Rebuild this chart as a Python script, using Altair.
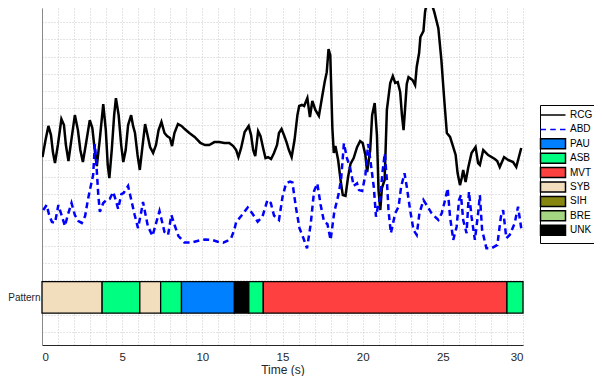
import altair as alt
import pandas as pd

# ---- categories / legend ----
names = ["RCG", "ABD", "PAU", "ASB", "MVT", "SYB", "SIH", "BRE", "UNK"]
colors = ["#000000", "#0000FF", "#0080FF", "#00FF80", "#FF4040",
          "#F2DEBC", "#868610", "#A5D782", "#000000"]
edge_colors = ["#000000", "#0000FF", "#000000", "#000000", "#000000",
               "#000000", "#000000", "#000000", "#000000"]
line_sym = "M-2.5,0L2.5,0"
dash_sym = "M-2.5,0L-1.4,0M-0.55,0L0.55,0M1.4,0L2.5,0"
box_sym = "M-2.5,-1L2.5,-1L2.5,1L-2.5,1Z"
symbols = [line_sym, dash_sym] + [box_sym] * 7

# ---- RCG trace (time s, amplitude a.u.) ----
rcg_t = [0.03, 0.22, 0.40, 0.56, 0.68, 0.81, 0.99, 1.21, 1.37, 1.49, 1.65, 1.83, 2.05, 2.24,
         2.39, 2.55, 2.73, 2.98, 3.14, 3.29, 3.42, 3.60, 3.82, 3.98, 4.10, 4.20, 4.35, 4.50,
         4.61, 4.78, 4.94, 5.07, 5.22, 5.37, 5.56, 5.68, 5.80, 5.96, 6.10, 6.24, 6.43, 6.58,
         6.74, 6.93, 7.11, 7.27, 7.45, 7.64, 7.80, 7.98, 8.11, 8.26, 8.48, 8.70, 8.90, 9.19,
         9.52, 9.88, 10.16, 10.43, 10.75, 11.06, 11.37, 11.68, 11.93, 12.11, 12.25, 12.42,
         12.64, 12.89, 13.04, 13.17, 13.30, 13.48, 13.63, 13.79, 13.94, 14.10, 14.29, 14.47,
         14.66, 14.78, 14.94, 15.09, 15.25, 15.40, 15.57, 15.75, 15.93, 16.04, 16.21, 16.35,
         16.55, 16.71, 16.86, 17.05, 17.27, 17.47, 17.63, 17.76, 17.87, 17.98, 18.11, 18.20,
         18.30, 18.47, 18.62, 18.76, 18.93, 19.09, 19.24, 19.44, 19.65, 19.84, 20.00, 20.17,
         20.28, 20.47, 20.59, 20.75, 20.89, 20.99, 21.10, 21.20, 21.37, 21.51, 21.72, 21.88,
         22.03, 22.19, 22.34, 22.45, 22.55, 22.64, 22.75, 22.86, 23.11, 23.27, 23.37, 23.52,
         23.60, 23.79, 23.89, 24.07, 24.29, 24.47, 24.72, 24.91, 25.09, 25.25, 25.45, 25.65,
         25.80, 25.92, 26.07, 26.18, 26.27, 26.42, 26.58, 26.79, 27.04, 27.20, 27.31, 27.52,
         27.83, 28.24, 28.39, 28.55, 28.82, 29.07, 29.38, 29.58, 29.89]
rcg_v = [8.16, 9.15, 9.97, 9.44, 8.45, 7.81, 8.86, 10.37, 10.02, 8.86, 7.93, 9.15, 10.60, 9.73,
         8.57, 7.87, 8.86, 10.31, 9.85, 8.57, 7.64, 9.15, 11.24, 9.73, 7.70, 6.94, 8.57, 10.60,
         11.59, 10.60, 8.86, 7.87, 8.57, 10.02, 10.60, 9.97, 9.56, 8.28, 7.41, 8.57, 10.08, 9.44,
         8.74, 8.40, 8.86, 9.73, 10.20, 9.56, 9.38, 9.27, 8.80, 9.56, 10.08, 9.97, 9.79, 9.56,
         9.33, 8.98, 8.86, 8.86, 9.03, 9.03, 8.98, 8.98, 8.80, 8.57, 8.16, 8.69,
         9.62, 9.97, 9.44, 8.57, 8.22, 9.67, 9.38, 8.69, 8.10, 8.16, 8.05, 8.40,
         8.86, 9.56, 9.79, 9.44, 9.03, 8.57, 8.16, 9.15, 10.60, 11.13, 11.19, 11.13,
         11.59, 10.49, 11.42, 10.90, 10.55, 11.65, 12.52, 13.10, 14.44, 14.09, 9.85, 8.40,
         8.80, 7.99, 6.83, 5.95, 5.90, 7.00, 7.76, 8.10, 8.74, 9.09, 8.98, 8.28,
         7.29, 8.57, 10.60, 11.30, 9.44, 6.24, 5.08, 6.36, 6.83, 10.90, 12.47, 12.87,
         12.47, 12.52, 11.94, 10.60, 9.73, 10.90, 12.41, 12.81, 12.64, 12.35, 13.40, 14.21,
         15.14, 15.49, 16.59, 17.52, 17.12, 16.59, 15.66, 13.80, 11.48, 9.56, 9.33, 8.74,
         8.28, 7.23, 6.53, 6.94, 7.41, 6.71, 7.52, 8.40, 8.74, 7.81, 7.70, 8.57,
         8.28, 8.05, 7.93, 7.58, 8.16, 7.99, 7.87, 7.58, 8.69]

# ---- ABD trace ----
abd_t = [0.08, 0.29, 0.43, 0.62, 0.81, 1.02, 1.22, 1.43, 1.61, 1.84, 2.05, 2.27, 2.48, 2.69,
         2.86, 3.00, 3.19, 3.30, 3.40, 3.51, 3.61, 3.82, 4.02, 4.22, 4.44, 4.60, 4.75, 4.95,
         5.09, 5.37, 5.57, 5.78, 5.99, 6.19, 6.30, 6.60, 6.89, 7.12, 7.33, 7.64, 7.86, 8.07,
         8.29, 8.51, 8.88, 9.32, 9.81, 10.19, 10.62, 10.96, 11.30, 11.55, 11.80, 11.99, 12.11,
         12.42, 12.83, 13.14, 13.45, 13.75, 14.06, 14.27, 14.47, 14.78, 15.00, 15.22, 15.47,
         15.62, 15.83, 16.06, 16.30, 16.53, 16.76, 16.97, 17.17, 17.38, 17.59, 17.80, 18.00,
         18.23, 18.51, 18.66, 18.83, 19.02, 19.22, 19.44, 19.65, 19.77, 19.97, 20.17, 20.34,
         20.48, 20.70, 20.83, 20.95, 21.10, 21.24, 21.38, 21.51, 21.61, 21.76, 22.03, 22.24,
         22.40, 22.61, 22.75, 22.96, 23.17, 23.37, 23.54, 23.79, 23.99, 24.30, 24.72, 24.93,
         25.14, 25.30, 25.45, 25.65, 25.86, 26.01, 26.13, 26.27, 26.48, 26.63, 26.79, 27.00,
         27.20, 27.31, 27.45, 27.72, 28.03, 28.40, 28.62, 28.76, 28.96, 29.17, 29.48, 29.69,
         29.89]
abd_v = [5.08, 5.37, 4.85, 4.38, 4.33, 5.37, 4.79, 4.15, 4.79, 5.49, 4.79, 4.44, 4.33, 4.73,
         5.66, 6.30, 7.12, 8.92, 7.64, 5.95, 4.97, 5.49, 5.66, 5.72, 6.13, 5.66, 5.14, 6.01,
         6.07, 6.48, 5.66, 4.79, 4.03, 4.97, 5.55, 4.15, 3.57, 4.33, 5.02, 3.80, 3.63, 4.79,
         4.15, 3.57, 3.19, 3.19, 3.31, 3.37, 3.34, 3.24, 3.18, 3.28, 3.45, 3.92, 4.38,
         4.73, 5.23, 4.85, 4.40, 4.69, 5.66, 5.49, 4.76, 4.50, 5.84, 6.63, 6.73,
         6.68, 5.27, 4.03, 3.45, 2.85, 4.27, 6.19, 6.63, 5.37, 4.40, 4.27, 3.34,
         4.97, 6.05, 6.94, 8.96, 8.10, 7.52, 6.48, 6.63, 6.24, 6.19, 7.12, 8.92,
         7.99, 6.36, 4.69, 5.27, 5.85, 7.31, 8.38, 6.83, 5.08, 3.73, 4.89, 5.27,
         6.44, 7.22, 6.44, 5.08, 3.92, 3.63, 4.89, 5.66, 5.37, 4.89, 4.50, 4.89,
         5.66, 6.34, 4.69, 3.34, 4.11, 5.66, 5.95, 4.50, 3.73, 6.15, 4.69, 3.34,
         4.89, 5.95, 3.92, 2.85, 2.85, 3.05, 4.69, 5.08, 3.44, 3.63, 4.31, 5.27,
         4.02]

# ---- breathing pattern segments ----
seg_start = [0.0, 3.75, 6.1, 7.4, 8.7, 12.0, 12.9, 13.8, 29.0]
seg_end = [3.75, 6.1, 7.4, 8.7, 12.0, 12.9, 13.8, 29.0, 30.0]
seg_label = ["SYB", "ASB", "SYB", "ASB", "PAU", "UNK", "ASB", "MVT", "ASB"]

# ---- axes ----
x_ticks = list(range(0, 31))
y_grid = list(range(-2, 17))
pattern_level = 0
bar_half = 0.92
x_domain = [0, 30]
y_domain = [-2.77, 16.83]
offscreen = -50  # legend-carrier points sit outside the domain (clipped)

rcg = pd.DataFrame({"t": rcg_t, "v": rcg_v})
abd = pd.DataFrame({"t": abd_t, "v": abd_v})
segs = pd.DataFrame({"start": seg_start, "end": seg_end, "series": seg_label})
keys = pd.DataFrame({"series": names})

FONT = "Liberation Sans"
legend = alt.Legend(
    orient="none", legendX=498, legendY=97, title=None,
    strokeColor="#000000", fillColor="#ffffff", padding=4,
    labelFont=FONT, labelFontSize=10, labelColor="#000000",
    rowPadding=-1.6, symbolSize=100, symbolOffset=3, labelOffset=11,
    symbolOpacity=1, symbolStrokeWidth=1.5, gridAlign="all",
)
# pattern colours only (domain differs from the legend domain)
pat_color = alt.Color("series:N", scale=alt.Scale(domain=names[2:], range=colors[2:]),
                      legend=None)

x_axis = alt.Axis(values=x_ticks, labelExpr="datum.value % 5 === 0 ? datum.label : ''",
                  title="Time (s)", grid=True, ticks=False, labelPadding=6, titlePadding=2,
                  labelFontSize=11.5, titleFontSize=12, titleFontWeight="normal",
                  domainColor="#262626", labelAngle=0)
y_axis = alt.Axis(values=y_grid, labelExpr="datum.value === 0 ? 'Pattern' : ''",
                  title=None, grid=True, ticks=False, labelPadding=2, labelFontSize=10,
                  domainColor="#8a8a8a")
xs = alt.Scale(domain=x_domain, nice=False, zero=False)
ys = alt.Scale(domain=y_domain, nice=False, zero=False)

bars = alt.Chart(segs).mark_rect(stroke="#000000", strokeWidth=1.3).encode(
    x=alt.X("start:Q", scale=xs, axis=x_axis),
    x2="end:Q",
    y=alt.Y(datum=pattern_level - bar_half, scale=ys, axis=y_axis),
    y2=alt.Y2(datum=pattern_level + bar_half),
    color=pat_color,
)
line_rcg = alt.Chart(rcg).mark_line(strokeWidth=2.5, clip=True, color=colors[0]).encode(
    x=alt.X("t:Q", scale=xs, axis=x_axis),
    y=alt.Y("v:Q", scale=ys, axis=y_axis),
)
line_abd = alt.Chart(abd).mark_line(strokeWidth=2.5, strokeDash=[6, 4], clip=True,
                                    color=colors[1]).encode(
    x=alt.X("t:Q", scale=xs, axis=x_axis),
    y=alt.Y("v:Q", scale=ys, axis=y_axis),
)
legend_keys = alt.Chart(keys).mark_point(filled=True, clip=True).encode(
    x=alt.X(datum=offscreen, scale=xs, axis=x_axis),
    y=alt.Y(datum=offscreen, scale=ys, axis=y_axis),
    fill=alt.Fill("series:N", scale=alt.Scale(domain=names, range=colors), legend=legend),
    stroke=alt.Stroke("series:N", scale=alt.Scale(domain=names, range=edge_colors), legend=legend),
    shape=alt.Shape("series:N", scale=alt.Scale(domain=names, range=symbols), legend=legend),
)

chart = alt.layer(bars, line_rcg, line_abd, legend_keys).properties(
    width=481, height=337,
    autosize=alt.AutoSizeParams(type="none"),
    padding={"left": 34, "top": 0, "right": 71, "bottom": 31},
).configure_view(stroke=None).configure_axis(
    labelFont=FONT, titleFont=FONT, labelColor="#262626", titleColor="#262626",
    gridColor="#c8c8c8", gridDash=[1, 2], gridWidth=1, domainWidth=1,
)

chart.save("out.html", embed_options={"renderer": "svg", "actions": False})
